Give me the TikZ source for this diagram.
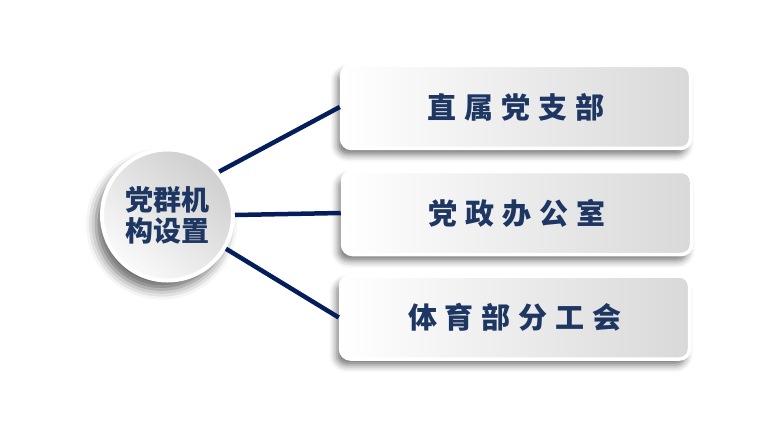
\documentclass[tikz,border=0pt]{standalone}
\usepackage{fontspec}
\newfontfamily\cjk{Noto Sans CJK SC}
\usetikzlibrary{shadows.blur}
\definecolor{linkblue}{RGB}{4,30,92}
\definecolor{textblue}{RGB}{30,54,98}
\newcommand\gap{\hspace{8pt}}
\begin{document}
\begin{tikzpicture}[x=1pt, y=-1pt,
  deptbox/.style={draw=white, line width=3.5pt, rounded corners=10pt,
    minimum width=349pt, minimum height=83pt, left color=white, right color=black!15,
    blur shadow={shadow xshift=-4pt, shadow yshift=-6pt, shadow blur radius=7pt, shadow opacity=55},
    text=textblue, font=\cjk\bfseries\fontsize{29}{32}\selectfont},
  rootball/.style={circle, draw=white, line width=4pt, minimum size=131pt,
    top color=black!19, bottom color=black!2, shading angle=-40,
    blur shadow={shadow xshift=-6pt, shadow yshift=-9pt, shadow blur radius=10pt, shadow opacity=60},
    text=textblue, align=center, font=\cjk\bfseries\fontsize{28}{31}\selectfont},
  link/.style={draw=linkblue, line width=4.5pt}]
\useasboundingbox (0,0) rectangle (771,433);
\node[rootball] (root) at (167.5,215){党群机\\构设置};
\node[deptbox] (dept1) at (516,107){直\gap 属\gap 党\gap 支\gap 部};
\node[deptbox] (dept2) at (517,213){党\gap 政\gap 办\gap 公\gap 室};
\node[deptbox] (dept3) at (515,317.5){体\gap 育\gap 部\gap 分\gap 工\gap 会};
\draw[link] (root.40) -- (dept1.west);
\draw[link] (root.east) -- (dept2.west);
\draw[link] (root.-30) -- (dept3.west);
\end{tikzpicture}
\end{document}
